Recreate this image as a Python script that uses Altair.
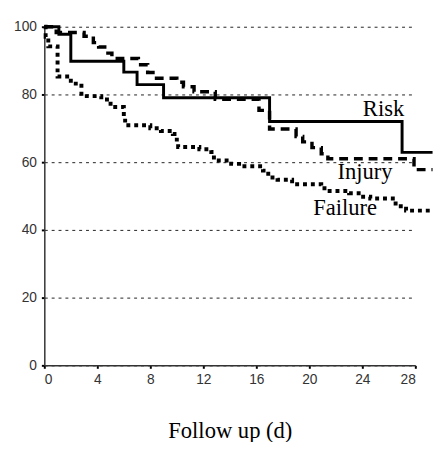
import altair as alt
import pandas as pd

# ---- data ----
risk_days = [0, 1.1, 2.0, 6.0, 7.0, 9.0, 17.0, 27.0, 29.3]
risk_surv = [100, 97.8, 89.8, 86.6, 82.9, 79.0, 72.0, 62.9, 62.9]

injury_days = [0, 0.9, 3.0, 3.7, 4.1, 4.8, 5.1, 7.1, 7.8, 8.2,
               10.0, 10.5, 11.3, 12.9, 16.2, 17.0, 19.0, 19.5, 20.2, 20.9,
               21.4, 27.9, 29.3]
injury_surv = [100, 98.3, 97.2, 95.3, 94.0, 92.2, 90.6, 88.8, 86.5, 84.8,
               83.6, 82.3, 80.8, 78.6, 75.3, 69.8, 67.6, 66.0, 64.3, 62.5,
               61.0, 57.8, 57.8]

failure_days = [0, 0.1, 0.3, 1.0, 2.0, 2.8, 4.3, 5.0, 6.0, 6.1,
                8.0, 8.8, 9.7, 10.0, 10.1, 11.7, 12.6, 12.8, 14.1, 14.7,
                16.5, 16.9, 17.6, 18.7, 20.9, 21.3, 23.0, 23.9, 24.6, 26.3,
                26.7, 27.3, 29.3]
failure_surv = [100, 97, 94.2, 85.3, 83.2, 79.5, 78.5, 76.3, 73, 70.9,
                70.0, 69.2, 68.3, 65.5, 64.5, 63.8, 63.0, 60.5, 59.5, 58.8,
                57.5, 55.5, 54.8, 53.5, 52.3, 51.5, 50.8, 49.8, 49.3, 47.8,
                47.0, 45.7, 45.7]

label_text = ["Risk", "Injury", "Failure"]
label_day = [25.6, 24.2, 22.7]
label_val = [73.6, 55.0, 44.3]

x_ticks = [0, 4, 8, 12, 16, 20, 24, 28]
y_ticks = [0, 20, 40, 60, 80, 100]

risk_df = pd.DataFrame({"day": risk_days, "surv": risk_surv})
injury_df = pd.DataFrame({"day": injury_days, "surv": injury_surv})
failure_df = pd.DataFrame({"day": failure_days, "surv": failure_surv})
labels_df = pd.DataFrame({"text": label_text, "day": label_day, "surv": label_val})

x_enc = alt.X("day:Q", scale=alt.Scale(domain=[0, 28], nice=False),
              axis=alt.Axis(values=x_ticks, title="Follow up (d)", grid=False,
                            titleY=74, titleBaseline="alphabetic"))
y_enc = alt.Y("surv:Q", scale=alt.Scale(domain=[0, 100], nice=False),
              axis=alt.Axis(values=y_ticks, title=None, grid=True))


def curve(df, dash, width):
    return alt.Chart(df).mark_line(
        interpolate="step-after", color="black", strokeWidth=width,
        strokeDash=dash, clip=False
    ).encode(x=x_enc, y=y_enc)


failure = curve(failure_df, [4, 4], 4)
injury = curve(injury_df, [9, 6], 3.5)
risk = curve(risk_df, [1, 0], 3)

labels = alt.Chart(labels_df).mark_text(
    font="Liberation Serif", fontSize=23, color="black",
    align="center", baseline="alphabetic"
).encode(x="day:Q", y="surv:Q", text="text:N")

chart = alt.layer(failure, injury, risk, labels).properties(
    width=378, height=345,
    padding={"left": 37, "top": 15, "right": 18, "bottom": 74},
    autosize=alt.AutoSizeParams(type="none"),
).configure_view(stroke=None).configure_axis(
    domainColor="#333", domainWidth=1.5,
    tickColor="black", tickSize=3, tickWidth=2,
    labelFont="Liberation Sans", labelFontSize=14, labelColor="#333",
    labelPadding=5,
    titleFont="Liberation Serif", titleFontSize=23, titleFontWeight="normal",
    titleColor="black",
    gridColor="#222", gridDash=[3, 4], gridWidth=1,
)

chart.save("out.html", embed_options={"renderer": "svg", "actions": False})
